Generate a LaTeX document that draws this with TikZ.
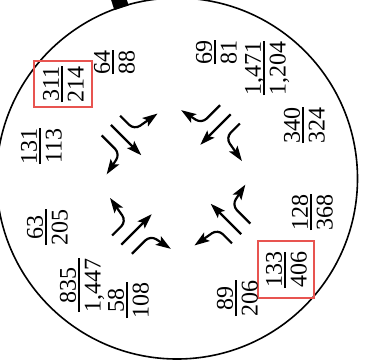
\documentclass[tikz,border=0pt]{standalone}
\usepackage{fontspec}
\setmainfont{Liberation Serif}
\usetikzlibrary{arrows.meta}
\definecolor{boxred}{RGB}{232,84,80}
\newcommand\myfrac[2]{\vbox{\offinterlineskip\halign{\hfil##\hfil\cr\raisebox{0pt}[16.5pt][0pt]{#1}\cr\noalign{\kern2.5pt\hrule height1.8pt\kern4pt}\raisebox{0pt}[16.5pt][0pt]{#2}\cr}}}
\tikzset{
  frac/.style={rotate=90, inner sep=0pt, font=\fontsize{24}{24}\selectfont},
  redbox/.style={frac, draw=boxred, line width=2.5pt},
  mv/.style={line width=2.2pt, -{Stealth[length=15pt, width=10pt, inset=3pt]}, rounded corners=7pt},
}
\begin{document}
\begin{tikzpicture}[x=1pt, y=1pt]
\useasboundingbox (0,0) rectangle (369,360);
\clip (0,0) rectangle (369,360);
% ring
\draw[line width=1.6pt] (177,181.5) circle (180.5);
\begin{scope}[shift={(177,181.5)}, rotate=18]
  \fill (-7.5,179.5) rectangle (7.5,191);
\end{scope}
% movement arrows
\begin{scope}[shift={(176,180.5)}]
\foreach \k in {0,1,2,3}{
  \begin{scope}[shift={({50+90*\k}:85)}, rotate={50+90*\k-185}]
    \coordinate (s\k) at (0,0);
    \coordinate (t\k) at (43,0);
    \coordinate (ls\k) at (0,13);
    \coordinate (lc\k) at (20,13);
    \coordinate (lt\k) at (25,41);
    \coordinate (rs\k) at (1,-14);
    \coordinate (rc\k) at (27,-14);
    \coordinate (rt\k) at (32,-38);
    \draw[mv] (s\k) -- (t\k);
    \draw[mv] (ls\k) -- (lc\k) -- (lt\k);
    \draw[mv] (rs\k) -- (rc\k) -- (rt\k);
  \end{scope}
}
\end{scope}
% volumes
\node[redbox, minimum width=46pt, minimum height=58pt] (v311) at (63,276) {\myfrac{311}{214}};
\node[frac] (v64) at (114,298) {\myfrac{64}{88}};
\node[frac] (v131) at (41,214) {\myfrac{131}{113}};
\node[frac] (v69) at (216,308) {\myfrac{69}{81}};
\node[frac] (v1471) at (265,292) {\myfrac{1,471}{1,204}};
\node[frac] (v340) at (304,235) {\myfrac{340}{324}};
\node[frac] (v63) at (47,133) {\myfrac{63}{205}};
\node[frac] (v835) at (80,75) {\myfrac{835}{1,447}};
\node[frac] (v58) at (128,60) {\myfrac{58}{108}};
\node[frac] (v128) at (312,148) {\myfrac{128}{368}};
\node[redbox, minimum width=57pt, minimum height=56pt] (v133) at (286,90.5) {\myfrac{133}{406}};
\node[frac] (v89) at (237,62) {\myfrac{89}{206}};
\end{tikzpicture}
\end{document}
